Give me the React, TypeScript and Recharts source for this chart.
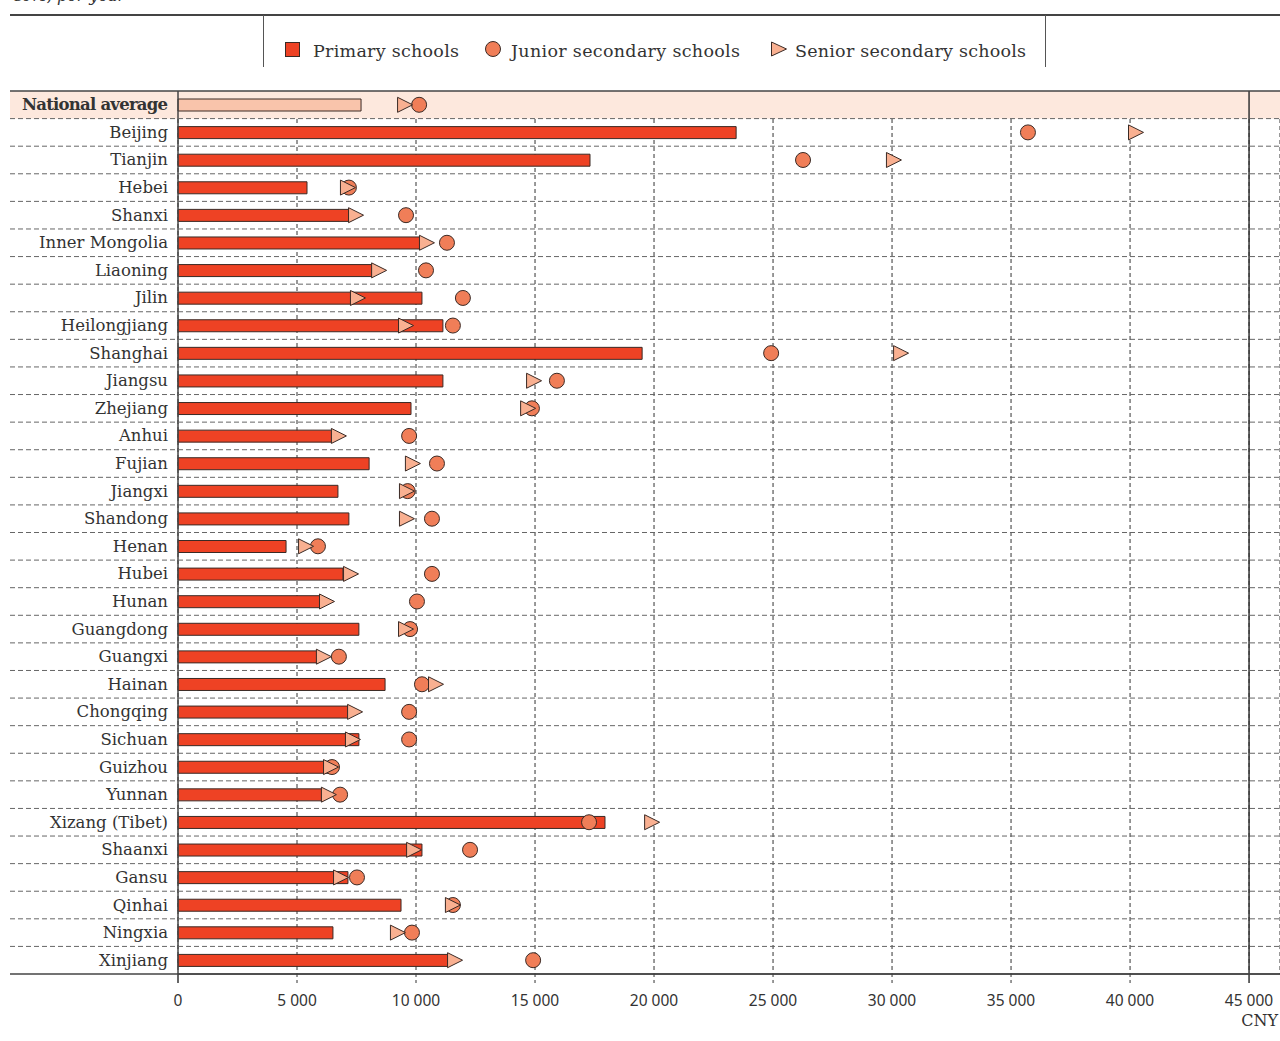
import React from 'react'
import {
  Bar,
  CartesianGrid,
  Cell,
  ComposedChart,
  Line,
  ReferenceArea,
  ReferenceLine,
  XAxis,
  YAxis,
} from 'recharts'

const regions = [
  'National average',
  'Beijing',
  'Tianjin',
  'Hebei',
  'Shanxi',
  'Inner Mongolia',
  'Liaoning',
  'Jilin',
  'Heilongjiang',
  'Shanghai',
  'Jiangsu',
  'Zhejiang',
  'Anhui',
  'Fujian',
  'Jiangxi',
  'Shandong',
  'Henan',
  'Hubei',
  'Hunan',
  'Guangdong',
  'Guangxi',
  'Hainan',
  'Chongqing',
  'Sichuan',
  'Guizhou',
  'Yunnan',
  'Xizang (Tibet)',
  'Shaanxi',
  'Gansu',
  'Qinhai',
  'Ningxia',
  'Xinjiang',
]

const primary = [
  7690, 23450, 17310, 5420, 7230, 10210, 8190, 10250, 11130, 19500, 11130,
  9790, 6470, 8030, 6720, 7180, 4540, 6930, 5970, 7600, 5880, 8700, 7140, 7600,
  6600, 6050, 17940, 10250, 7140, 9370, 6510, 11340,
]

const junior = [
  10130, 35710, 26260, 7180, 9580, 11300, 10420, 11970, 11550, 24920, 15920,
  14870, 9710, 10880, 9650, 10670, 5880, 10670, 10040, 9750, 6760, 10250, 9710,
  9710, 6470, 6810, 17270, 12270, 7520, 11550, 9830, 14920,
]

const senior = [
  9540, 40250, 30080, 7140, 7480, 10460, 8450, 7560, 9580, 30380, 14960, 14710,
  6760, 9870, 9620, 9620, 5380, 7270, 6260, 9580, 6130, 10840, 7440, 7350, 6430,
  6340, 19920, 9920, 6850, 11550, 9240, 11640,
]

const xTicks = [0, 5000, 10000, 15000, 20000, 25000, 30000, 35000, 40000, 45000]

const data = regions.map((name, i) => ({
  name,
  primary: primary[i],
  junior: junior[i],
  senior: senior[i],
}))

const TOP = 91
const BOTTOM = 974
const ROW_H = (BOTTOM - TOP) / regions.length
const TEXT = '#333'
const RED = '#ee4224'
const CORAL = '#f07e58'
const SALMON = '#f9b091'
const PEACH_BAR = '#f9c4ab'
const PEACH_BG = '#fde8dd'
const SERIF = '"DejaVu Serif", serif'
const SANS = '"Noto Sans", sans-serif'

const fmt = (v: number) =>
  v === 0 ? '0' : `${Math.floor(v / 1000)} ${String(v % 1000).padStart(3, '0')}`

const RegionTick = (props: any) => {
  const { x, y, payload, index } = props
  const first = index === 0
  const last = index === regions.length - 1
  return (
    <g>
      {first && (
        <line x1={10} x2={1280} y1={y - ROW_H / 2} y2={y - ROW_H / 2} stroke='#444' strokeWidth={1.5} />
      )}
      <line
        x1={10}
        x2={1280}
        y1={y + ROW_H / 2}
        y2={y + ROW_H / 2}
        stroke={last ? '#444' : '#666'}
        strokeWidth={last ? 1.5 : 1}
        strokeDasharray={last ? undefined : '5 3'}
      />
      <text
        x={x}
        y={y}
        dy={5.5}
        textAnchor='end'
        fill={TEXT}
        fontFamily={SERIF}
        fontSize={16.5}
        fontWeight={first ? 'bold' : 'normal'}
        textLength={first ? 146 : undefined}
      >
        {payload.value}
      </text>
    </g>
  )
}

const ValueTick = (props: any) => {
  const { x, payload } = props
  const solid = payload.value === 0 || payload.value === 45000
  return (
    <g>
      <line
        x1={x}
        x2={x}
        y1={BOTTOM}
        y2={BOTTOM + (solid ? 9 : 10)}
        stroke='#333'
        strokeWidth={solid ? 1.5 : 1}
        strokeDasharray={solid ? undefined : '3 3'}
      />
      <text x={x} y={1006} textAnchor='middle' fill={TEXT} fontFamily={SANS} fontSize={15.5}>
        {fmt(payload.value)}
      </text>
      {payload.value === 45000 && (
        <text x={1278} y={1026} textAnchor='end' fill={TEXT} fontFamily={SERIF} fontSize={16}>
          CNY
        </text>
      )}
    </g>
  )
}

const JuniorDot = (props: any) => {
  const { cx, cy, index } = props
  if (cx == null || cy == null) return <g key={`j-${index}`} />
  return <circle key={`j-${index}`} cx={cx} cy={cy} r={7.5} fill={CORAL} stroke='#3a2a25' strokeWidth={1} />
}

const SeniorDot = (props: any) => {
  const { cx, cy, index } = props
  if (cx == null || cy == null) return <g key={`s-${index}`} />
  const h = 7.5
  return (
    <path
      key={`s-${index}`}
      d={`M${cx - h},${cy - h} L${cx + h},${cy} L${cx - h},${cy + h} Z`}
      fill={SALMON}
      stroke='#3a2a25'
      strokeWidth={1}
      strokeLinejoin='round'
    />
  )
}

const RowBand = (props: any) => (
  <rect x={10} y={props.y} width={1270} height={props.height} fill={PEACH_BG} />
)

const LegendBox = () => (
  <div
    style={{
      position: 'absolute',
      left: 263,
      top: 15,
      width: 783,
      height: 52,
      borderLeft: '1px solid #555',
      borderRight: '1px solid #555',
      boxSizing: 'border-box',
    }}
  >
    <svg width={783} height={52} style={{ position: 'absolute', left: 0, top: 0 }}>
      <rect x={21.5} y={27.5} width={14} height={14} fill={RED} stroke='#3a2a25' />
      <text x={49} y={42} fontFamily={SERIF} fontSize={17.5} fill={TEXT} textLength={146}>
        Primary schools
      </text>
      <circle cx={229} cy={34} r={7.5} fill={CORAL} stroke='#3a2a25' />
      <text x={247} y={42} fontFamily={SERIF} fontSize={17.5} fill={TEXT} textLength={229}>
        Junior secondary schools
      </text>
      <path d='M507.5,27 L522.5,34 L507.5,41 Z' fill={SALMON} stroke='#3a2a25' />
      <text x={531} y={42} fontFamily={SERIF} fontSize={17.5} fill={TEXT} textLength={231}>
        Senior secondary schools
      </text>
    </svg>
  </div>
)

export default function App() {
  return (
    <div
      style={{
        position: 'absolute',
        left: 0,
        top: 0,
        width: 1280,
        height: 1041,
        background: '#fff',
        overflow: 'hidden',
      }}
    >
      <div
        style={{
          position: 'absolute',
          left: 12,
          top: -14,
          fontFamily: SERIF,
          fontStyle: 'italic',
          fontSize: 16,
          color: TEXT,
        }}
      >
        CNY, per year
      </div>
      <div style={{ position: 'absolute', left: 10, top: 14, width: 1270, height: 2, background: '#444' }} />
      <LegendBox />
      <div style={{ position: 'absolute', left: 0, top: 0 }}>
        <ComposedChart
          width={1280}
          height={1041}
          data={data}
          layout='vertical'
          margin={{ top: TOP, right: 0, bottom: 0, left: 0 }}
        >
          <ReferenceArea
            y1='National average'
            y2='National average'
            shape={RowBand}
            ifOverflow='visible'
          />
          <CartesianGrid
            horizontal={false}
            stroke='#333'
            strokeDasharray='4 3'
          />
          <XAxis
            type='number'
            domain={[0, 46300]}
            ticks={xTicks}
            interval={0}
            axisLine={{ stroke: '#444', strokeWidth: 1.5 }}
            tickLine={false}
            tick={<ValueTick />}
            height={1041 - BOTTOM}
          />
          <YAxis
            type='category'
            dataKey='name'
            width={178}
            interval={0}
            axisLine={false}
            tickLine={false}
            tickSize={0}
            tickMargin={10}
            tick={<RegionTick />}
          />
          <ReferenceLine x={0} stroke='#444' strokeWidth={1.5} ifOverflow='visible' />
          <ReferenceLine x={45000} stroke='#333' strokeWidth={1.5} ifOverflow='visible' />
          <Bar dataKey='primary' barSize={12} stroke='#3a2a25' strokeWidth={1} isAnimationActive={false}>
            {data.map((d, i) => (
              <Cell key={`c-${d.name}`} fill={i === 0 ? PEACH_BAR : RED} />
            ))}
          </Bar>
          <Line
            dataKey='junior'
            stroke='none'
            dot={JuniorDot}
            activeDot={false}
            isAnimationActive={false}
          />
          <Line
            dataKey='senior'
            stroke='none'
            dot={SeniorDot}
            activeDot={false}
            isAnimationActive={false}
          />
        </ComposedChart>
      </div>
    </div>
  )
}
